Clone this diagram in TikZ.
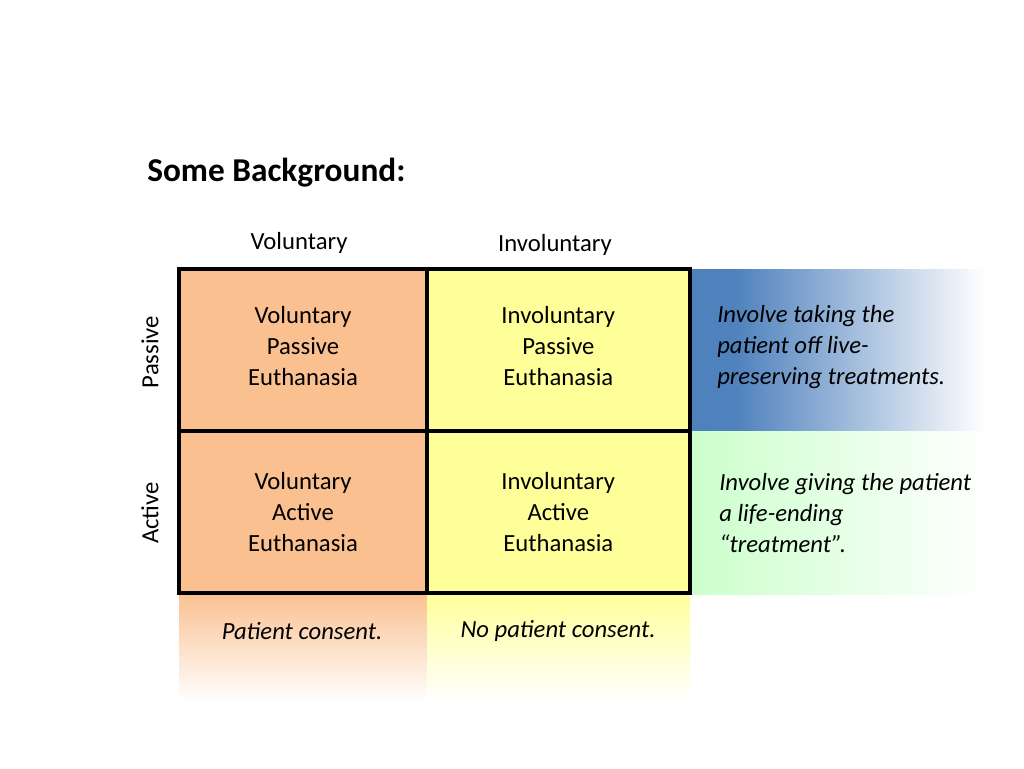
\documentclass[tikz,border=0pt]{standalone}
\usepackage{fontspec}
\setmainfont{Carlito}
\usepackage{xcolor}
\usepackage{tikz}
\usetikzlibrary{positioning}

\definecolor{cellorange}{HTML}{FAC090}
\definecolor{cellyellow}{HTML}{FFFF99}
\definecolor{fadeblue}{HTML}{4F81BD}
\definecolor{fadegreen}{HTML}{CCFFCC}

\begin{document}
\begin{tikzpicture}[
        x=0.75pt, y=-0.75pt,
        txt/.style={font=\fontsize{18.5}{23}\selectfont, align=center, inner sep=0pt},
        note/.style={txt, align=left, font=\fontsize{18.5}{23}\selectfont\itshape},
        cell/.style={txt, draw=black, line width=3pt, outer sep=0pt,
                     minimum height=121.5pt},
        volcell/.style={cell, fill=cellorange, minimum width=186pt},
        invcell/.style={cell, fill=cellyellow, minimum width=197pt}
    ]
    \useasboundingbox (0,0) rectangle (1024,768);

    \fill[fadeblue] (692,269) rectangle (736,431);
    \shade[left color=fadeblue, right color=white] (735,269) rectangle (985,431);
    \shade[left color=fadegreen, right color=white] (692,431) rectangle (990,594);
    \shade[top color=cellorange, middle color=cellorange!65!white, bottom color=white]
        (179,592) rectangle (427,702);
    \shade[top color=cellyellow, middle color=cellyellow!65!white, bottom color=white]
        (427,592) rectangle (690,702);

    \node[txt, anchor=west, font=\fontsize{25}{30}\selectfont\bfseries] (title)
        at (147,173) {Some Background:};

    \node[txt] (colvol) at (299,243) {Voluntary};
    \node[txt] (colinv) at (555,245) {Involuntary};
    \node[txt, rotate=90] (rowpas) at (150,352) {Passive};
    \node[txt, rotate=90] (rowact) at (150,513) {Active};

    \node[volcell, text depth=6pt] (volpas) at (303,350) {Voluntary\\Passive\\Euthanasia};
    \node[invcell, text depth=6pt, right=0pt of volpas] (invpas) {Involuntary\\Passive\\Euthanasia};
    \node[volcell, below=0pt of volpas] (volact) {Voluntary\\Active\\Euthanasia};
    \node[invcell, right=0pt of volact] (invact) {Involuntary\\Active\\Euthanasia};

    \node[note, anchor=west] (pasnote) at (717,347)
        {Involve taking the\\patient off live-\\preserving treatments.};
    \node[note, anchor=west] (actnote) at (719,513)
        {Involve giving the patient\\a life-ending\\“treatment”.};

    \node[note] (volnote) at (302,631) {Patient consent.};
    \node[note] (invnote) at (558,631) {No patient consent.};
\end{tikzpicture}
\end{document}
